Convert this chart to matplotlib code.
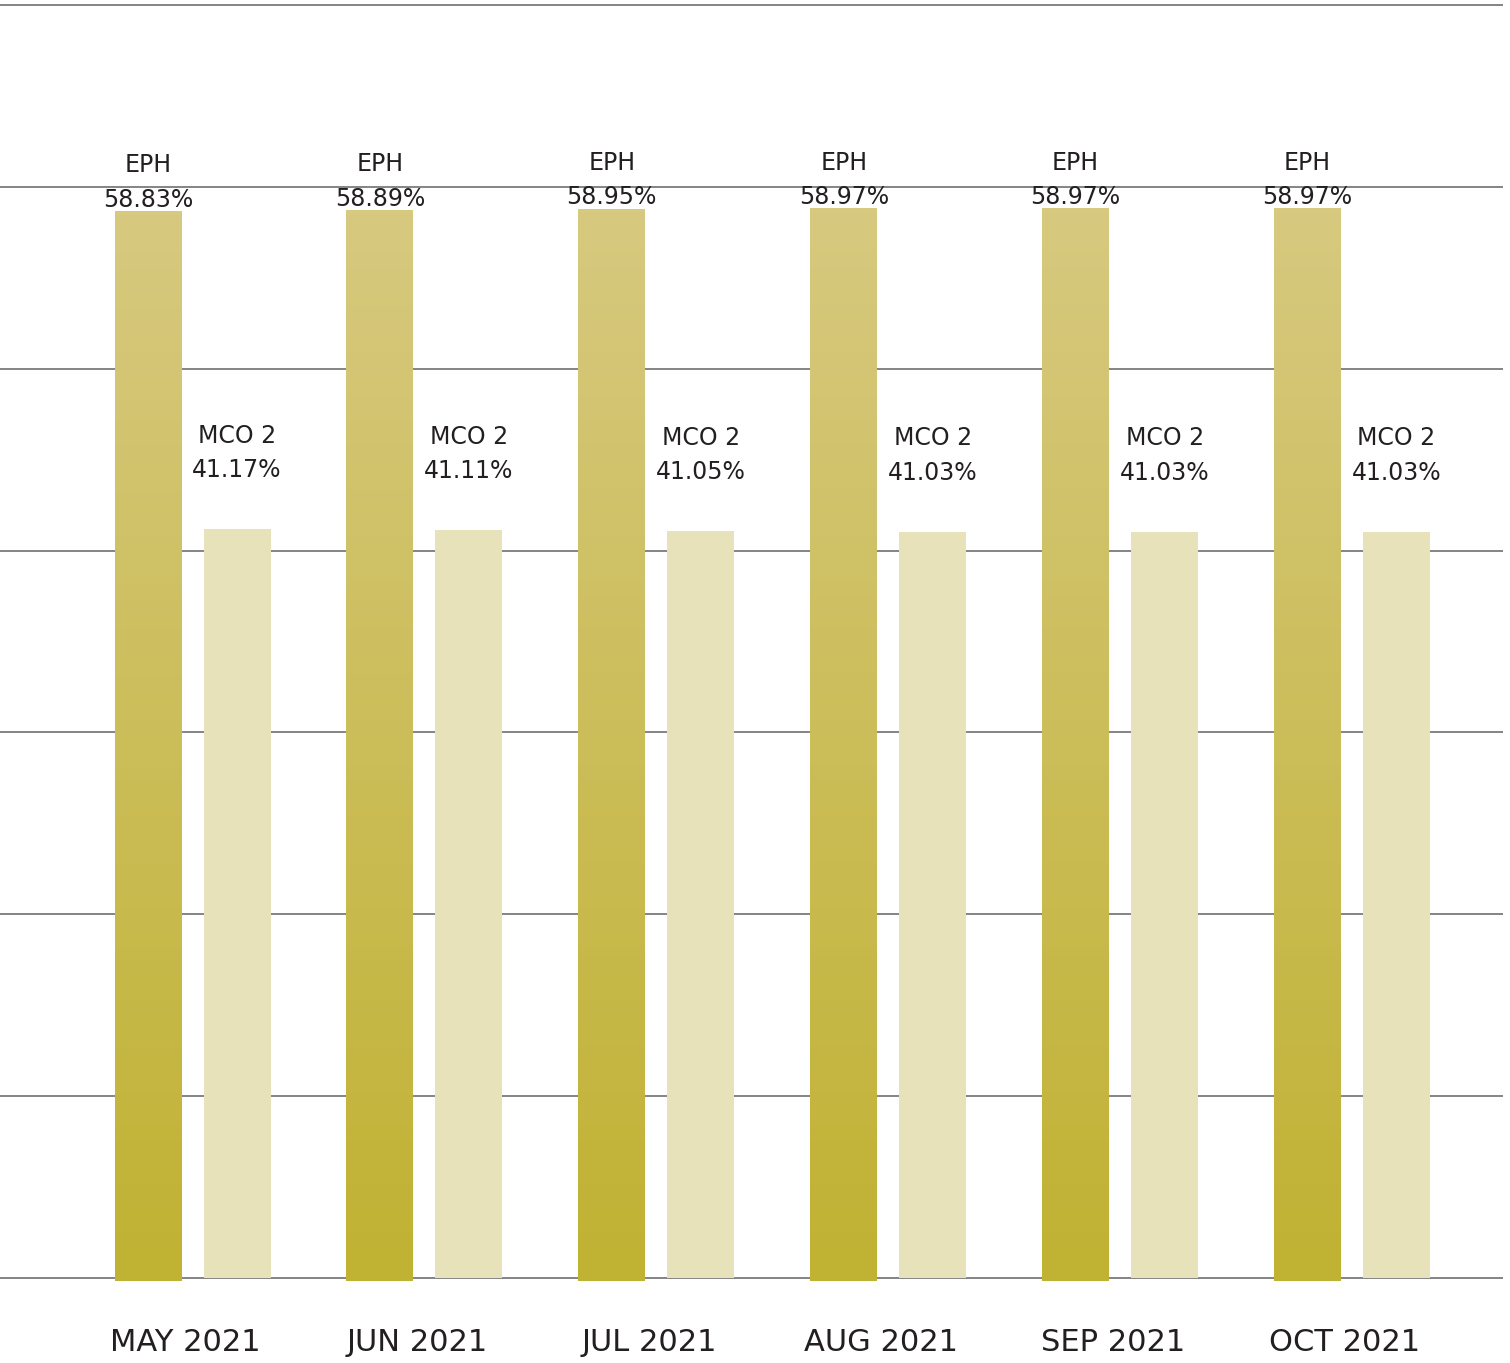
import numpy as np
import matplotlib
matplotlib.use("Agg")
import matplotlib.pyplot as plt

# data
months = ["MAY 2021", "JUN 2021", "JUL 2021", "AUG 2021", "SEP 2021", "OCT 2021"]
eph = [58.83, 58.89, 58.95, 58.97, 58.97, 58.97]
mco2 = [41.17, 41.11, 41.05, 41.03, 41.03, 41.03]

EPH_TOP = "#d7c97f"
EPH_BOT = "#c0b232"
MCO_COL = "#e7e2b9"
TXT = "#231f20"

plt.rcParams["font.family"] = ["DejaVu Sans"]

fig = plt.figure(figsize=(15.10, 13.63), dpi=100)
ax = fig.add_axes([0, 0, 1503 / 1510, 1])

px_unit = 1273 / 70.0
ax.set_ylim(-85 / px_unit, 1278 / px_unit)
step = 231.9
ax.set_xlim(-192.5 / step, (1503 - 192.5) / step)

x = np.arange(len(months))
off = 44.5 / step
w = 67 / step

ax.set_yticks(np.arange(0, 71, 10))
ax.yaxis.grid(True, color="#6f6f6f", linewidth=1.2)
ax.set_axisbelow(True)
for s in ax.spines.values():
    s.set_visible(False)
ax.tick_params(left=False, bottom=False, labelleft=False, labelbottom=False)

# EPH bars with vertical gradient
grad = np.linspace(0, 1, 256).reshape(-1, 1)
cmap = matplotlib.colors.LinearSegmentedColormap.from_list("eph", [EPH_BOT, EPH_TOP])
bars = ax.bar(x - off, eph, width=w, bottom=-0.15, color="none", zorder=3)
for b in bars:
    x0, y0 = b.get_x(), b.get_y()
    im = ax.imshow(grad, cmap=cmap, aspect="auto", origin="lower",
                   extent=[x0, x0 + b.get_width(), y0, y0 + b.get_height()], zorder=3)
    im.set_clip_path(b)

ax.bar(x + off, mco2, width=w, color=MCO_COL, zorder=3)

# labels
for i in range(len(months)):
    ax.annotate(f"EPH\n{eph[i]:.2f}%", (x[i] - off, eph[i]), xytext=(0, -2.5),
                textcoords="offset points", ha="center", va="bottom",
                fontsize=17, color=TXT, linespacing=1.55)
    ax.annotate(f"MCO 2\n{mco2[i]:.2f}%", (x[i] + off, mco2[i]), xytext=(0, 34),
                textcoords="offset points", ha="center", va="bottom",
                fontsize=17, color=TXT, linespacing=1.55)
    ax.text(x[i] - 0.03, -3.55, months[i], ha="center", va="center",
            fontsize=22, color=TXT)

fig.savefig("out.png", dpi=100)
